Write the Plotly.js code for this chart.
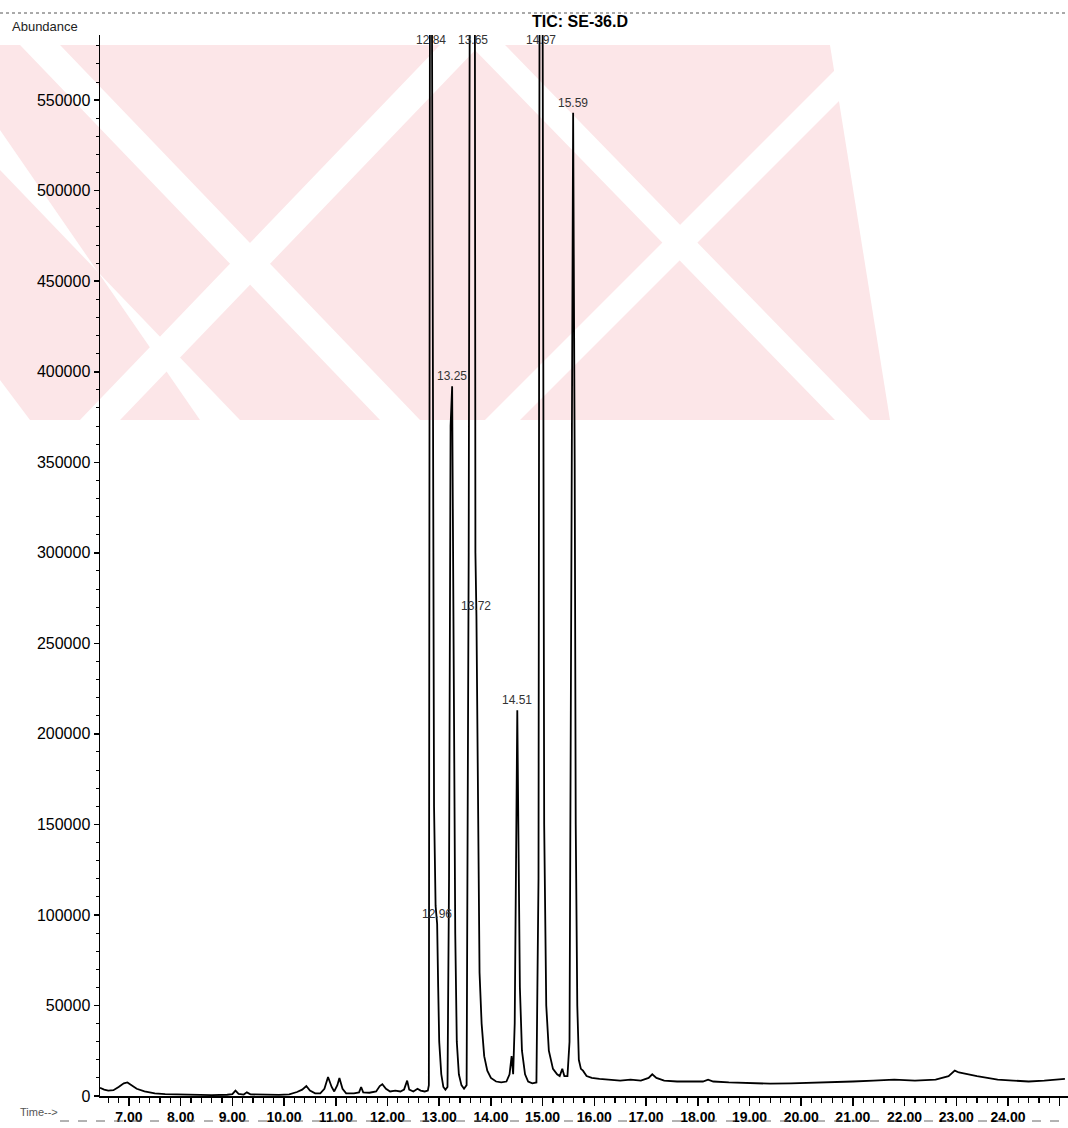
<!DOCTYPE html>
<html>
<head>
<meta charset="utf-8">
<script src="https://cdn.plot.ly/plotly-3.0.1.min.js"></script>
<style>html,body{margin:0;padding:0;background:#fff;}#chart{width:1068px;height:1128px;}</style>
</head>
<body>
<div id="chart"></div>
<script>
// Retention time (min)
const timeMin = [
  6.44, 6.52, 6.60, 6.70, 6.80, 6.90, 6.97, 7.05, 7.15, 7.30, 7.50, 7.70, 8.00, 8.30, 8.60, 8.90,
  9.00, 9.06, 9.12, 9.22, 9.28, 9.35, 9.60, 9.90, 10.10, 10.25, 10.35, 10.43, 10.50, 10.60, 10.70,
  10.78, 10.85, 10.92, 10.97, 11.03, 11.07, 11.13, 11.20, 11.35, 11.45, 11.49, 11.53, 11.65, 11.78,
  11.85, 11.90, 11.97, 12.05, 12.15, 12.25, 12.32, 12.38, 12.42, 12.50, 12.58, 12.64, 12.72, 12.78,
  12.80, 12.82, 12.84, 12.86, 12.88, 12.90, 12.93, 12.96, 12.98, 13.00, 13.04, 13.08, 13.12,
  13.16, 13.19, 13.22, 13.25, 13.28, 13.31, 13.34, 13.38, 13.43, 13.48,
  13.53, 13.57, 13.59, 13.65, 13.69, 13.70, 13.72, 13.74, 13.76, 13.78, 13.82, 13.87, 13.93,
  14.00, 14.10, 14.20, 14.30, 14.36, 14.40, 14.43, 14.46, 14.49, 14.51, 14.53, 14.56, 14.60, 14.66,
  14.72, 14.80, 14.88, 14.92, 14.94, 14.97, 15.00, 15.03, 15.07, 15.12, 15.20, 15.28, 15.33, 15.38,
  15.42, 15.48, 15.52, 15.55, 15.59, 15.62, 15.64, 15.67, 15.70, 15.74, 15.78, 15.85, 15.95, 16.10,
  16.30, 16.50, 16.70, 16.90, 17.05, 17.12, 17.20, 17.35, 17.60, 17.90, 18.10, 18.20, 18.30, 18.60,
  19.00, 19.40, 19.80, 20.20, 20.60, 21.00, 21.40, 21.80, 22.20, 22.60, 22.85, 22.97, 23.05, 23.20,
  23.40, 23.60, 23.80, 24.10, 24.40, 24.70, 24.90, 25.10
];
// Abundance (TIC)
const abundance = [
  4500, 3500, 3000, 3200, 5000, 7000, 7500, 6000, 4000, 2500, 1500, 1000, 700, 600, 500, 700,
  1000, 3000, 1200, 800, 2000, 900, 600, 600, 900, 2200, 3500, 5500, 3000, 1500, 1500,
  4000, 10500, 5000, 2500, 6000, 10000, 4000, 1500, 1500, 2000, 5000, 2000, 1800, 2500,
  5500, 6500, 4000, 2500, 3000, 2500, 3500, 8500, 3500, 2500, 4000, 3000, 2500, 3000,
  6000, 600000, 650000, 600000, 300000, 160000, 105000, 95000, 60000, 30000, 12000, 5000, 3500,
  5000, 120000, 370000, 392000, 260000, 90000, 30000, 12000, 6000, 4000,
  6000, 300000, 600000, 650000, 600000, 300000, 265000, 180000, 100000, 68000, 40000, 22000, 14000,
  10000, 8000, 7500, 8000, 12000, 22000, 12000, 40000, 180000, 213000, 150000, 60000, 25000, 12000,
  8000, 7000, 7500, 120000, 600000, 650000, 600000, 150000, 50000, 25000, 15000, 12000, 11000, 15000,
  11000, 11000, 30000, 300000, 543000, 350000, 150000, 50000, 20000, 15000, 14000, 11000, 10000, 9500,
  9000, 8500, 9000, 8500, 10000, 12000, 10000, 8500, 8000, 7800, 8000, 9000, 8000, 7500,
  7000, 6800, 7000, 7200, 7800, 8000, 8500, 9000, 8500, 9000, 11000, 14000, 13000, 12000,
  11000, 10000, 9000, 8500, 8000, 8500, 9000, 9500
];
// Peak labels printed above the peaks
const peakLabels = ["12.84", "12.96", "13.25", "13.65", "13.72", "14.51", "14.97", "15.59"];
const peakTimes  = [12.84, 12.96, 13.25, 13.65, 13.72, 14.51, 14.97, 15.59];
const peakTops   = [650000, 95000, 392000, 650000, 265000, 213000, 650000, 543000];

const chartTitle = "TIC: SE-36.D";
const yLabel = "Abundance";
const xLabel = "Time-->";

const Y_MAX = 586000;
const X_RANGE = [6.44, 25.16];

// pixel -> paper helpers for decorations (plot area: x 100..1068, y 35..1096)
const L = 100, R = 1068, T = 35, B = 1096;
const px = v => (v - L) / (R - L);
const py = v => (B - v) / (B - T);
function poly(pts) {
  return 'M' + pts.map(p => px(p[0]).toFixed(4) + ',' + py(p[1]).toFixed(4)).join(' L') + ' Z';
}

const shapes = [];
const pink = '#fce6e8';
// watermark (approximate)
shapes.push({type: 'path', xref: 'paper', yref: 'paper', layer: 'below', line: {width: 0}, fillcolor: pink,
  path: poly([[0, 45], [830, 45], [890, 420], [0, 420]])});
const whites = [
  [[20, 45], [60, 45], [420, 420], [380, 420]],
  [[440, 45], [480, 45], [120, 420], [80, 420]],
  [[470, 45], [505, 45], [870, 420], [835, 420]],
  [[860, 45], [895, 45], [520, 420], [485, 420]],
  [[0, 130], [0, 170], [240, 420], [200, 420]],
  [[0, 340], [0, 380], [30, 420], [0, 420]]
];
whites.forEach(w => shapes.push({type: 'path', xref: 'paper', yref: 'paper', layer: 'below',
  line: {width: 0}, fillcolor: '#ffffff', path: poly(w)}));
// top dotted rule and bottom dashed rule
shapes.push({type: 'line', xref: 'paper', yref: 'paper', x0: px(0), x1: px(1068), y0: py(13), y1: py(13),
  line: {color: '#555', width: 1, dash: 'dot'}});
shapes.push({type: 'line', xref: 'paper', yref: 'paper', x0: px(60), x1: px(1068), y0: py(1121), y1: py(1121),
  line: {color: '#666', width: 1, dash: 'dash'}});

const annotations = peakLabels.map((lab, i) => {
  const clipped = peakTops[i] > Y_MAX;
  return clipped ? {
    x: peakTimes[i], xref: 'x', y: py(40), yref: 'paper',
    text: lab, showarrow: false, xanchor: 'center', yanchor: 'middle',
    font: {family: 'Liberation Sans, Arial, sans-serif', size: 12, color: '#333'}
  } : {
    x: peakTimes[i], xref: 'x', y: peakTops[i], yref: 'y',
    text: lab, showarrow: false, xanchor: 'center', yanchor: 'bottom', yshift: 1,
    font: {family: 'Liberation Sans, Arial, sans-serif', size: 12, color: '#333'}
  };
});
annotations.push({x: px(10), xref: 'paper', y: py(36), yref: 'paper', xanchor: 'left', yanchor: 'bottom',
  text: yLabel, showarrow: false, font: {family: 'Liberation Sans, Arial, sans-serif', size: 13, color: '#222'}});
annotations.push({x: px(18), xref: 'paper', y: py(1112), yref: 'paper', xanchor: 'left', yanchor: 'middle',
  text: xLabel, showarrow: false, font: {family: 'Liberation Sans, Arial, sans-serif', size: 11, color: '#555'}});

const trace = {
  x: timeMin, y: abundance, type: 'scatter', mode: 'lines',
  line: {color: '#000', width: 1.8}, hoverinfo: 'x+y'
};

const layout = {
  width: 1068, height: 1128,
  margin: {l: L, r: 1068 - R, t: T, b: 1128 - B, pad: 0},
  paper_bgcolor: '#fff', plot_bgcolor: 'rgba(0,0,0,0)',
  showlegend: false,
  title: {text: '<b>' + chartTitle + '</b>', x: 580 / 1068, xref: 'container', xanchor: 'center',
    y: 1 - 21 / 1128, yref: 'container', yanchor: 'middle',
    font: {family: 'Liberation Sans, Arial, sans-serif', size: 16, color: '#000'}},
  xaxis: {
    range: X_RANGE, showline: true, linecolor: '#000', linewidth: 1.5, mirror: false,
    ticks: 'outside', ticklen: 8, tickwidth: 1.5, tickcolor: '#000',
    tick0: 0, dtick: 1, tickformat: '.2f', showgrid: false, zeroline: false,
    tickfont: {family: 'Liberation Sans, Arial, sans-serif', size: 14, color: '#000', weight: 'bold'},
    minor: {dtick: 0.2, tick0: 0, ticks: 'outside', ticklen: 5, tickwidth: 1.2, tickcolor: '#000', showgrid: false},
    fixedrange: true
  },
  yaxis: {
    range: [0, Y_MAX], showline: true, linecolor: '#000', linewidth: 1.5,
    ticks: 'outside', ticklen: 5, tickwidth: 1.5, tickcolor: '#000',
    tick0: 0, dtick: 50000, tickformat: 'd', showgrid: false, zeroline: false,
    tickfont: {family: 'Liberation Sans, Arial, sans-serif', size: 16, color: '#000'},
    minor: {dtick: 10000, ticks: 'outside', ticklen: 3, tickwidth: 1, tickcolor: '#000', showgrid: false},
    fixedrange: true
  },
  shapes: shapes,
  annotations: annotations
};

Plotly.newPlot('chart', [trace], layout, {displayModeBar: false, staticPlot: true});
</script>
</body>
</html>
